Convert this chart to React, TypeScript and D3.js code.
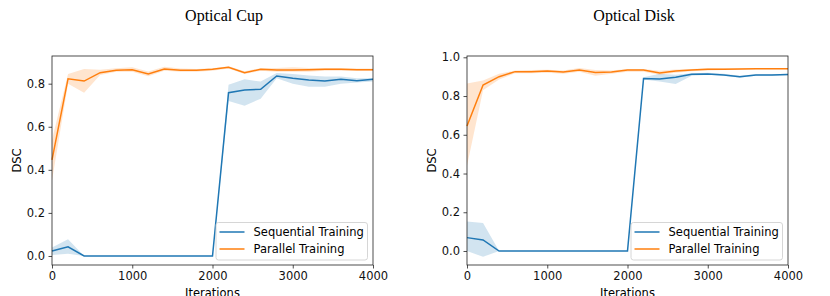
import React, { useEffect, useRef } from 'react';
import * as d3 from 'd3';

// iterations (x) shared by all curves
const iterations = [0, 200, 400, 600, 800, 1000, 1200, 1400, 1600, 1800, 2000, 2200, 2400, 2600, 2800, 3000, 3200, 3400, 3600, 3800, 4000];

// Optical Cup
const cupSeqMean = [0.023, 0.043, 0, 0, 0, 0, 0, 0, 0, 0, 0, 0.758, 0.771, 0.774, 0.836, 0.825, 0.817, 0.812, 0.82, 0.814, 0.82];
const cupSeqLo = [0.005, 0.01, 0, 0, 0, 0, 0, 0, 0, 0, 0, 0.72, 0.698, 0.73, 0.825, 0.8, 0.786, 0.786, 0.8, 0.805, 0.81];
const cupSeqHi = [0.04, 0.078, 0, 0, 0, 0, 0, 0, 0, 0, 0, 0.795, 0.82, 0.81, 0.85, 0.845, 0.838, 0.833, 0.833, 0.825, 0.825];
const cupParMean = [0.446, 0.823, 0.812, 0.851, 0.862, 0.865, 0.845, 0.868, 0.862, 0.862, 0.867, 0.876, 0.851, 0.867, 0.863, 0.863, 0.865, 0.867, 0.867, 0.865, 0.865];
const cupParLo = [0.35, 0.8, 0.758, 0.84, 0.855, 0.855, 0.835, 0.86, 0.855, 0.855, 0.86, 0.87, 0.845, 0.86, 0.855, 0.855, 0.855, 0.86, 0.86, 0.86, 0.86];
const cupParHi = [0.54, 0.845, 0.868, 0.865, 0.872, 0.876, 0.856, 0.879, 0.87, 0.868, 0.872, 0.881, 0.858, 0.872, 0.873, 0.876, 0.873, 0.872, 0.872, 0.87, 0.87];

// Optical Disk
const diskSeqMean = [0.069, 0.057, 0, 0, 0, 0, 0, 0, 0, 0, 0, 0.891, 0.888, 0.897, 0.912, 0.914, 0.909, 0.9, 0.909, 0.909, 0.911];
const diskSeqLo = [0.0, -0.03, 0, 0, 0, 0, 0, 0, 0, 0, 0, 0.885, 0.875, 0.862, 0.905, 0.91, 0.905, 0.895, 0.905, 0.905, 0.907];
const diskSeqHi = [0.152, 0.145, 0, 0, 0, 0, 0, 0, 0, 0, 0, 0.897, 0.915, 0.91, 0.918, 0.92, 0.915, 0.905, 0.913, 0.913, 0.915];
const diskParMean = [0.645, 0.857, 0.9, 0.926, 0.926, 0.929, 0.924, 0.934, 0.922, 0.924, 0.934, 0.934, 0.919, 0.929, 0.934, 0.938, 0.938, 0.94, 0.941, 0.941, 0.941];
const diskParLo = [0.44, 0.83, 0.885, 0.918, 0.918, 0.92, 0.915, 0.925, 0.905, 0.915, 0.925, 0.925, 0.91, 0.92, 0.928, 0.932, 0.934, 0.936, 0.938, 0.938, 0.938];
const diskParHi = [0.865, 0.88, 0.915, 0.932, 0.934, 0.936, 0.932, 0.945, 0.935, 0.932, 0.94, 0.94, 0.93, 0.937, 0.94, 0.944, 0.944, 0.944, 0.945, 0.945, 0.945];

const xTicks = [0, 1000, 2000, 3000, 4000];
const cupYTicks = [0, 0.2, 0.4, 0.6, 0.8];
const diskYTicks = [0, 0.2, 0.4, 0.6, 0.8, 1.0];
const legendLabels = ['Sequential Training', 'Parallel Training'];

const BLUE = '#1f77b4';
const ORANGE = '#ff7f0e';
const SANS = 'DejaVu Sans, sans-serif';

const panels = [
  {
    title: 'Optical Cup', titleX: 224, left: 52, right: 373, yDomain: [-0.0418, 0.9285], yTicks: cupYTicks,
    seq: [cupSeqMean, cupSeqLo, cupSeqHi], par: [cupParMean, cupParLo, cupParHi],
  },
  {
    title: 'Optical Disk', titleX: 634, left: 467, right: 788, yDomain: [-0.0723, 1.0067], yTicks: diskYTicks,
    seq: [diskSeqMean, diskSeqLo, diskSeqHi], par: [diskParMean, diskParLo, diskParHi],
  },
];

const App = () => {
  const svgRef = useRef(null);

  useEffect(() => {
    const svg = d3.select(svgRef.current);
    svg.selectAll('*').remove();
    const top = 56, bottom = 265;

    panels.forEach(p => {
      const x = d3.scaleLinear().domain([0, 4000]).range([p.left, p.right]);
      const y = d3.scaleLinear().domain(p.yDomain).range([bottom, top]);
      const g = svg.append('g');

      svg.append('text')
        .attr('x', p.titleX).attr('y', 21)
        .attr('text-anchor', 'middle')
        .style('font-family', 'Liberation Serif, Times New Roman, serif')
        .style('font-size', '16px')
        .text(p.title);

      const area = d3.area<number>()
        .x((d, i) => x(iterations[i]));
      const line = d3.line<number>()
        .x((d, i) => x(iterations[i]))
        .y(d => y(d));

      [[p.seq, BLUE], [p.par, ORANGE]].forEach(([s, c]: any) => {
        const [mean, lo, hi] = s;
        g.append('path')
          .datum(mean)
          .attr('d', area.y0((d, i) => y(lo[i])).y1((d, i) => y(hi[i])))
          .attr('fill', c).attr('fill-opacity', 0.2);
      });
      [[p.seq, BLUE], [p.par, ORANGE]].forEach(([s, c]: any) => {
        g.append('path')
          .datum(s[0])
          .attr('d', line)
          .attr('fill', 'none')
          .attr('stroke', c)
          .attr('stroke-width', 1.5);
      });

      // spines
      g.append('rect')
        .attr('x', p.left).attr('y', top)
        .attr('width', p.right - p.left).attr('height', bottom - top)
        .attr('fill', 'none').attr('stroke', '#222').attr('stroke-width', 0.8);

      const xAxis = g.append('g')
        .attr('transform', `translate(0,${bottom})`)
        .call(d3.axisBottom(x).tickValues(xTicks).tickSize(3.5).tickPadding(3.5).tickFormat(d3.format('d')));
      const yAxis = g.append('g')
        .attr('transform', `translate(${p.left},0)`)
        .call(d3.axisLeft(y).tickValues(p.yTicks).tickSize(3.5).tickPadding(3.5).tickFormat(d3.format('.1f')));
      [xAxis, yAxis].forEach(a => {
        a.select('.domain').remove();
        a.selectAll('line').attr('stroke', '#222').attr('stroke-width', 0.8);
        a.selectAll('text').style('font-family', SANS).style('font-size', '11.5px').attr('fill', '#111');
      });

      g.append('text')
        .attr('transform', `translate(${p.left - 31},${(top + bottom) / 2}) rotate(-90)`)
        .attr('text-anchor', 'middle')
        .style('font-family', SANS).style('font-size', '11.5px')
        .text('DSC');
      g.append('text')
        .attr('x', (p.left + p.right) / 2).attr('y', 297)
        .attr('text-anchor', 'middle')
        .style('font-family', SANS).style('font-size', '11.5px')
        .text('Iterations');

      // legend
      const lg = g.append('g').attr('transform', `translate(${p.right - 157},222.5)`);
      lg.append('rect')
        .attr('width', 151.5).attr('height', 37.5).attr('rx', 2.5)
        .attr('fill', 'white').attr('fill-opacity', 0.8)
        .attr('stroke', '#ccc').attr('stroke-width', 0.8);
      legendLabels.forEach((lab, i) => {
        const yy = 9.5 + i * 17;
        lg.append('line')
          .attr('x1', 3.5).attr('x2', 28.5).attr('y1', yy).attr('y2', yy)
          .attr('stroke', i === 0 ? BLUE : ORANGE).attr('stroke-width', 1.5);
        lg.append('text')
          .attr('x', 37.5).attr('y', yy + 4)
          .style('font-family', SANS).style('font-size', '11.5px')
          .text(lab);
      });
    });
  }, []);

  return (
    <svg ref={svgRef} width={830} height={296} style={{ position: 'absolute', left: 0, top: 0, background: 'white' }}></svg>
  );
};

export default App;
